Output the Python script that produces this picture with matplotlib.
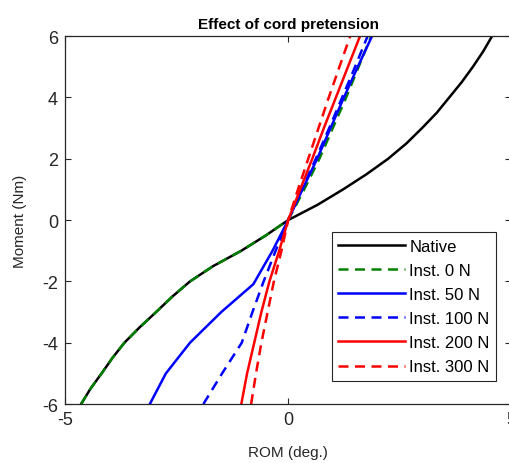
import numpy as np
import matplotlib.pyplot as plt

plt.rcParams['font.family'] = ['Liberation Sans', 'DejaVu Sans']
plt.rcParams['axes.unicode_minus'] = False

# moment (Nm) and range of motion (deg.)
moment_n = [-6, -5.5, -5, -4.5, -4, -3.5, -3, -2.5, -2, -1.5, -1, -0.5, 0,
            0.5, 1, 1.5, 2, 2.5, 3, 3.5, 4, 4.5, 5, 5.5, 6]
native = [-4.64, -4.43, -4.18, -3.94, -3.67, -3.33, -2.96, -2.6, -2.2, -1.68, -1.05, -0.5, 0,
          0.66, 1.23, 1.76, 2.24, 2.65, 3.0, 3.33, 3.61, 3.89, 4.14, 4.37, 4.57]
inst0 = [-4.64, -4.43, -4.18, -3.94, -3.67, -3.33, -2.96, -2.6, -2.2, -1.68, -1.05, -0.5, 0,
         0.18, 0.36, 0.53, 0.7, 0.85, 1.0, 1.15, 1.3, 1.44, 1.58, 1.72, 1.86]

moment = [-6, -5, -4, -3, -2, -1, 0, 1, 2, 3, 4, 5, 6]
moment50 = [-6, -5, -4, -3, -2.09, -1, 0, 1, 2, 3, 4, 5, 6]
inst50 = [-3.1, -2.74, -2.2, -1.5, -0.78, -0.35, 0, 0.32, 0.65, 0.95, 1.25, 1.56, 1.88]
inst100 = [-1.9, -1.48, -1.04, -0.8, -0.55, -0.28, 0, 0.3, 0.62, 0.92, 1.21, 1.5, 1.78]
inst200 = [-1.05, -0.92, -0.76, -0.6, -0.42, -0.2, 0, 0.27, 0.54, 0.8, 1.07, 1.34, 1.61]
inst300 = [-0.83, -0.72, -0.6, -0.46, -0.32, -0.15, 0, 0.22, 0.45, 0.68, 0.91, 1.15, 1.39]

labels = ['Native', 'Inst. 0 N', 'Inst. 50 N', 'Inst. 100 N', 'Inst. 200 N', 'Inst. 300 N']

fig = plt.figure(figsize=(5.1, 4.64), dpi=100)
ax = fig.add_axes([0.1275, 0.127, 0.875, 0.793])

dash = (0, (4, 2.6))
ax.plot(native, moment_n, color='black', lw=1.8, label=labels[0])
ax.plot(inst0, moment_n, color='#008000', lw=1.8, ls=dash, label=labels[1])
ax.plot(inst50, moment50, color='blue', lw=1.8, label=labels[2])
ax.plot(inst100, moment, color='blue', lw=1.8, ls=dash, label=labels[3])
ax.plot(inst200, moment, color='red', lw=1.8, label=labels[4])
ax.plot(inst300, moment, color='red', lw=1.8, ls=dash, label=labels[5])

ax.set_xlim(-5, 5)
ax.set_ylim(-6, 6)
ax.set_xticks([-5, 0, 5])
ax.set_yticks([-6, -4, -2, 0, 2, 4, 6])
ax.tick_params(direction='in', top=True, right=True, labelsize=13,
               colors='#262626', length=4, pad=5)
for s in ax.spines.values():
    s.set_color('#262626')
    s.set_linewidth(0.9)

ax.set_title('Effect of cord pretension', fontsize=11, fontweight='bold', pad=6)
ax.set_xlabel('ROM (deg.)', fontsize=11, color='#262626', labelpad=12)
ax.set_ylabel('Moment (Nm)', fontsize=11, color='#262626', labelpad=11)

leg = ax.legend(loc='lower right', bbox_to_anchor=(0.985, 0.04), fontsize=12,
                handlelength=4.0, handletextpad=0.25, labelspacing=0.55,
                borderpad=0.4, fancybox=False, framealpha=1, edgecolor='#262626')
leg.get_frame().set_linewidth(0.8)

fig.savefig('out.png', dpi=100)
